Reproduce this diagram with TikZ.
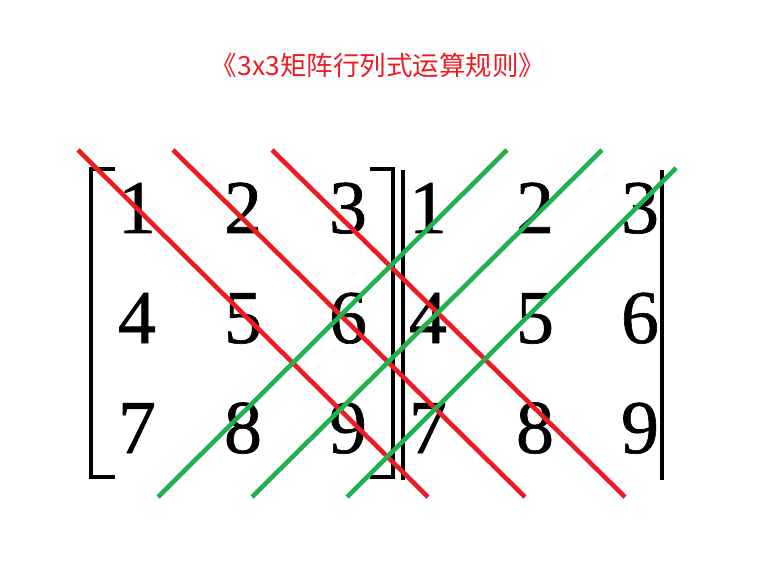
\documentclass[tikz,border=0pt]{standalone}
\usepackage{fontspec}
\setmainfont{Liberation Serif}
\newfontfamily\numfont{Liberation Serif}[FakeBold=0.8]
\newfontfamily\cjkfont{Noto Sans CJK SC}
\usetikzlibrary{positioning}
\definecolor{linered}{HTML}{ED1C24}
\definecolor{linegreen}{HTML}{22B14C}

\begin{document}
\begin{tikzpicture}[x=1pt,y=-1pt,
		entry/.style={anchor=base,inner sep=0pt,font=\numfont\fontsize{76}{76}\selectfont},
		bar/.style={line width=3.2pt},
		diagred/.style={draw=linered,line width=4.6pt},
		diaggreen/.style={draw=linegreen,line width=4.6pt}]
		\useasboundingbox (0,0) rectangle (777,575);
		% title
		\node[text=linered,font=\cjkfont\fontsize{26.5}{26.5}\selectfont] (title) at (378,65) {《3x3矩阵行列式运算规则》};
		% entries, left matrix and repeated copy
		\foreach \r/\yy in {1/233,2/343,3/453}{
			\foreach \c/\xa/\xb in {1/137/428,2/243/535,3/348/640}{
				\pgfmathtruncatemacro{\v}{3*(\r-1)+\c}
				\node[entry] (a-\r-\c) at (\xa,\yy) {\v};
				\node[entry] (b-\r-\c) at (\xb,\yy) {\v};
			}
		}
		% brackets and bars
		\draw[bar] (115,169) -- (91,169) -- (91,477) -- (115,477);
		\draw[bar] (370,169) -- (393,169) -- (393,477) -- (370,477);
		\draw[bar] (403,170) -- (403,480);
		\draw[bar] (662,170) -- (662,480);
		% end points of the diagonals
		\coordinate (r1s) at (78,150);  \coordinate (r1e) at (428,497);
		\coordinate (r2s) at (173,150); \coordinate (r2e) at (525,497);
		\coordinate (r3s) at (272,150); \coordinate (r3e) at (625,497);
		\coordinate (g1s) at (158,497); \coordinate (g1e) at (507,150);
		\coordinate (g2s) at (252,497); \coordinate (g2e) at (602,150);
		\coordinate (g3s) at (347,497); \coordinate (g3e) at (676,168);
		\foreach \k in {1,2,3}{
			\draw[diagred] (r\k s) -- (r\k e);
		}
		\foreach \k in {1,2,3}{
			\draw[diaggreen] (g\k s) -- (g\k e);
		}
	\end{tikzpicture}
\end{document}
